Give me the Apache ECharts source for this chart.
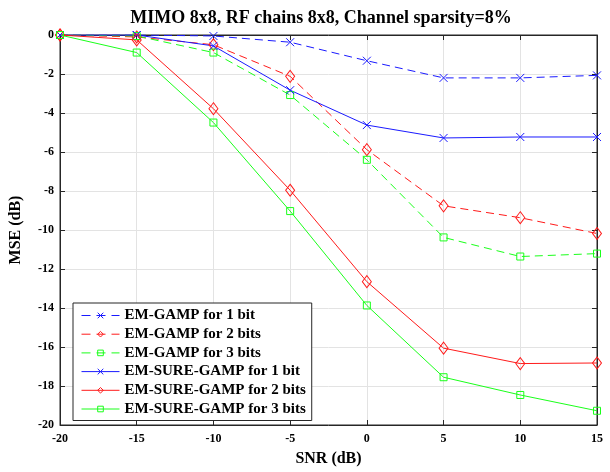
<!DOCTYPE html>
<html>
<head>
<meta charset="utf-8">
<script src="https://cdn.jsdelivr.net/npm/echarts@6/dist/echarts.min.js"></script>
<style>
  html, body { margin: 0; padding: 0; background: #fff; }
  #chart { width: 610px; height: 472px; }
</style>
</head>
<body>
<div id="chart"></div>
<script>
// SNR (dB)
const snr = [-20, -15, -10, -5, 0, 5, 10, 15];

// MSE (dB)
const emGamp1 = [0, 0, -0.05, -0.37, -1.32, -2.2, -2.2, -2.07];
const emGamp2 = [0, -0.1, -0.5, -2.12, -5.88, -8.76, -9.37, -10.18];
const emGamp3 = [0, -0.05, -0.9, -3.08, -6.4, -10.38, -11.36, -11.21];
const sure1 = [0, 0, -0.56, -2.83, -4.62, -5.28, -5.23, -5.23];
const sure2 = [0, -0.25, -3.78, -7.96, -12.65, -16.06, -16.85, -16.82];
const sure3 = [0, -0.9, -4.49, -9.03, -13.87, -17.55, -18.46, -19.27];

const names = [
  'EM-GAMP for 1 bit',
  'EM-GAMP for 2 bits',
  'EM-GAMP for 3 bits',
  'EM-SURE-GAMP for 1 bit',
  'EM-SURE-GAMP for 2 bits',
  'EM-SURE-GAMP for 3 bits'
];

const BLUE = '#1a1aff', RED = '#ff1a1a', GREEN = '#1aff1a';
const colors = [BLUE, RED, GREEN, BLUE, RED, GREEN];
const dashedFlags = [true, true, true, false, false, false];
const xMark = 'path://M0,0L10,10M10,0L0,10';
const diamond = 'path://M5,0L10,7L5,14L0,7Z';
const square = 'path://M0,0L10,0L10,10L0,10Z';

const chart = echarts.init(document.getElementById('chart'));

const mk = (name, vals, color, symbol, size, dashed) => ({
  name: name,
  type: 'line',
  data: snr.map((x, i) => [x, vals[i]]),
  symbol: symbol,
  symbolSize: size,
  showSymbol: true,
  animation: false,
  lineStyle: { color: color, width: 1, type: dashed ? [8, 5] : 'solid' },
  itemStyle: { color: 'rgba(0,0,0,0)', borderColor: color, borderWidth: 1 },
  emphasis: { disabled: true }
});

const font = 'Liberation Serif';
const axisColor = '#262626';

chart.setOption({
  backgroundColor: '#fff',
  title: {
    text: 'MIMO 8x8, RF chains 8x8, Channel sparsity=8%',
    left: 316,
    textAlign: 'center',
    top: 4,
    textStyle: { fontFamily: font, fontWeight: 'bold', fontSize: 18, color: '#000' }
  },
  grid: {
    left: 57, right: 13, top: 35, bottom: 43,
    show: true, borderColor: axisColor, borderWidth: 1, backgroundColor: 'transparent'
  },
  legend: {
    orient: 'vertical',
    left: 73, top: 303,
    data: names.map((n, i) => ({
      name: n,
      itemStyle: { color: 'rgba(0,0,0,0)', borderColor: colors[i], borderWidth: 1 },
      lineStyle: { color: colors[i], width: 1, type: dashedFlags[i] ? [9, 6] : 'solid' }
    })),
    backgroundColor: '#fff',
    borderColor: axisColor,
    borderWidth: 1,
    padding: [5, 6, 4, 8],
    itemWidth: 38,
    itemHeight: 7,
    itemGap: 3.7,
    textStyle: { fontFamily: font, fontWeight: 'bold', fontSize: 15, color: '#000' }
  },
  xAxis: [{
    type: 'value',
    min: -20, max: 15, interval: 5,
    name: 'SNR (dB)',
    nameLocation: 'middle',
    nameGap: 26,
    nameTextStyle: { fontFamily: font, fontWeight: 'bold', fontSize: 16, color: '#000' },
    axisLine: { show: true, onZero: false, lineStyle: { color: axisColor } },
    axisTick: { show: true, inside: true, length: 5, lineStyle: { color: axisColor } },
    axisLabel: { fontFamily: font, fontWeight: 'bold', fontSize: 12, color: '#000', margin: 8 },
    splitLine: { show: true, lineStyle: { color: '#e3e3e3' } }
  }, {
    type: 'value',
    position: 'top',
    min: -20, max: 15, interval: 5,
    axisLine: { show: true, onZero: false, lineStyle: { color: axisColor } },
    axisTick: { show: true, inside: true, length: 5, lineStyle: { color: axisColor } },
    axisLabel: { show: false },
    splitLine: { show: false }
  }],
  yAxis: [{
    type: 'value',
    min: -20, max: 0, interval: 2,
    name: 'MSE (dB)',
    nameLocation: 'middle',
    nameGap: 36,
    nameTextStyle: { fontFamily: font, fontWeight: 'bold', fontSize: 16, color: '#000' },
    axisLine: { show: true, onZero: false, lineStyle: { color: axisColor } },
    axisTick: { show: true, inside: true, length: 5, lineStyle: { color: axisColor } },
    axisLabel: { fontFamily: font, fontWeight: 'bold', fontSize: 12, color: '#000', margin: 6 },
    splitLine: { show: true, lineStyle: { color: '#e3e3e3' } }
  }, {
    type: 'value',
    position: 'right',
    min: -20, max: 0, interval: 2,
    axisLine: { show: true, onZero: false, lineStyle: { color: axisColor } },
    axisTick: { show: true, inside: true, length: 5, lineStyle: { color: axisColor } },
    axisLabel: { show: false },
    splitLine: { show: false }
  }],
  series: [
    mk(names[0], emGamp1, BLUE, xMark, 8, true),
    mk(names[1], emGamp2, RED, diamond, [9, 12], true),
    mk(names[2], emGamp3, GREEN, square, 7, true),
    mk(names[3], sure1, BLUE, xMark, 8, false),
    mk(names[4], sure2, RED, diamond, [9, 12], false),
    mk(names[5], sure3, GREEN, square, 7, false)
  ]
});
</script>
</body>
</html>
